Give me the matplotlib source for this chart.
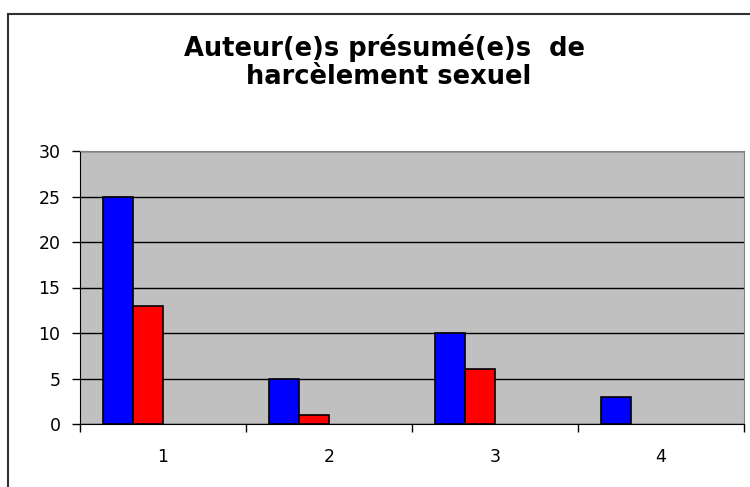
import numpy as np
import matplotlib
matplotlib.use('Agg')
import matplotlib.pyplot as plt
from matplotlib.patches import Rectangle

# data (Excel style, 4 series, the last two are empty)
categories = ['1', '2', '3', '4']
serie_bleue = [25, 5, 10, 3]
serie_rouge = [13, 1, 6, 0]
serie_3 = [0, 0, 0, 0]
serie_4 = [0, 0, 0, 0]
series = [serie_bleue, serie_rouge, serie_3, serie_4]
couleurs = ['#0000FF', '#FF0000', '#9999FF', '#993366']
yticks = [0, 5, 10, 15, 20, 25, 30]

fig = plt.figure(figsize=(7.5, 4.87), dpi=100)
fig.patch.set_facecolor('white')

# outer chart frame (only left and top visible in the crop)
fig.patches.append(Rectangle((8/750., -0.1), 1.2, 1 - 14/487. + 0.1, transform=fig.transFigure,
                             fill=False, edgecolor='#303030', linewidth=1.5))

ax = fig.add_axes([80/750., 1 - 424/487., (744-80)/750., (424-151)/487.])
ax.set_facecolor('#C0C0C0')

x = np.arange(1, len(categories)+1)
w = 1/5.5  # gap width 150%
for k, (vals, c) in enumerate(zip(series, couleurs)):
    pos = x - 0.5 + 0.75*w + k*w + w/2
    vals = np.array(vals, dtype=float)
    keep = vals > 0  # excel draws nothing for empty values
    if keep.any():
        ax.bar(pos[keep], vals[keep], width=w, color=c, edgecolor='black', linewidth=1.2, zorder=3)

ax.set_xlim(0.5, len(categories)+0.5)
ax.set_ylim(0, 30)
ax.set_yticks(yticks)
ax.yaxis.grid(True, color='black', linewidth=1)
ax.set_axisbelow(True)

ax.set_xticks(np.arange(0.5, len(categories)+1, 1))
ax.set_xticklabels([])
ax.set_xticks(x, minor=True)
ax.set_xticklabels(categories, minor=True)
ax.tick_params(axis='x', which='major', direction='out', length=6, width=1, color='black')
ax.tick_params(axis='x', which='minor', length=0, pad=17, labelsize=12.5)
ax.tick_params(axis='y', direction='out', length=6, width=1, pad=8, labelsize=12.5)

for s in ['top', 'right']:
    ax.spines[s].set_color('#808080')
for s in ['left', 'bottom']:
    ax.spines[s].set_color('black')

fig.text(384/750., 1 - 56/487., 'Auteur(e)s présumé(e)s  de', ha='center', va='baseline',
         fontsize=18.5, fontweight='bold')
fig.text(389/750., 1 - 84/487., 'harcèlement sexuel', ha='center', va='baseline',
         fontsize=18.5, fontweight='bold')

plt.savefig('out.png', dpi=100)
